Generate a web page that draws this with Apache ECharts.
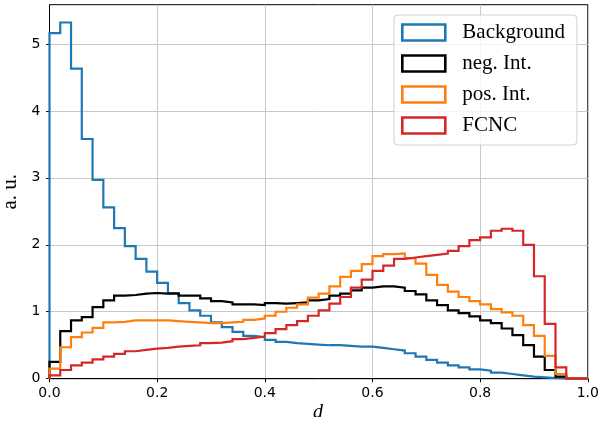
<!DOCTYPE html>
<html>
<head>
<meta charset="utf-8">
<script src="https://cdn.jsdelivr.net/npm/echarts@6/dist/echarts.min.js"></script>
<style>
  html, body { margin: 0; padding: 0; background: #fff; }
  #chart { width: 599px; height: 434px; }
</style>
</head>
<body>
<div id="chart"></div>
<script>
// Histogram binning: 50 equal bins on [0, 1]
const binLow = 0;
const binHigh = 1;
const binCount = 50;

const seriesNames = ['Background', 'neg. Int.', 'pos. Int.', 'FCNC'];

// Normalised bin contents (a.u.), one value per bin
const background = [
  5.16, 5.32, 4.63, 3.58, 2.97, 2.56, 2.25, 1.98, 1.79, 1.60,
  1.43, 1.28, 1.13, 1.02, 0.94, 0.84, 0.77, 0.70, 0.64, 0.62,
  0.58, 0.55, 0.53, 0.52, 0.51, 0.50, 0.50, 0.49, 0.48, 0.48,
  0.46, 0.44, 0.42, 0.38, 0.33, 0.28, 0.24, 0.20, 0.17, 0.14,
  0.12, 0.09, 0.07, 0.05, 0.03, 0.02, 0.01, 0.005, 0, 0
];
const negInt = [
  0.25, 0.71, 0.87, 0.92, 1.07, 1.17, 1.24, 1.25, 1.27, 1.28,
  1.27, 1.27, 1.24, 1.24, 1.20, 1.16, 1.14, 1.11, 1.11, 1.10,
  1.13, 1.12, 1.13, 1.14, 1.17, 1.19, 1.24, 1.27, 1.32, 1.36,
  1.38, 1.38, 1.36, 1.31, 1.26, 1.17, 1.10, 1.02, 0.98, 0.93,
  0.87, 0.83, 0.75, 0.65, 0.50, 0.33, 0.13, 0.03, 0, 0
];
const posInt = [
  0.15, 0.47, 0.62, 0.69, 0.76, 0.84, 0.85, 0.87, 0.87, 0.87,
  0.87, 0.86, 0.85, 0.84, 0.83, 0.83, 0.84, 0.85, 0.88, 0.90,
  0.94, 1.00, 1.06, 1.11, 1.21, 1.27, 1.38, 1.52, 1.61, 1.71,
  1.83, 1.86, 1.87, 1.80, 1.72, 1.55, 1.40, 1.30, 1.22, 1.16,
  1.11, 1.04, 0.99, 0.94, 0.80, 0.64, 0.34, 0.07, 0, 0
];
const fcnc = [
  0.05, 0.13, 0.20, 0.24, 0.29, 0.33, 0.37, 0.41, 0.43, 0.45,
  0.46, 0.48, 0.49, 0.50, 0.53, 0.54, 0.56, 0.59, 0.61, 0.63,
  0.68, 0.74, 0.80, 0.86, 0.94, 1.02, 1.12, 1.22, 1.36, 1.48,
  1.61, 1.69, 1.79, 1.81, 1.83, 1.85, 1.87, 1.91, 1.98, 2.07,
  2.11, 2.21, 2.24, 2.21, 2.00, 1.53, 0.82, 0.17, 0, 0
];

const xTicks = [0, 0.2, 0.4, 0.6, 0.8, 1.0];
const yTicks = [0, 1, 2, 3, 4, 5];
const colors = ['#1f77b4', '#000000', '#ff7f0e', '#d62728'];

// Outline of a step histogram: rise at the first edge, flat over each bin,
// fall back to zero at the last edge.
function stepOutline(values) {
  const w = (binHigh - binLow) / binCount;
  const pts = [[binLow, 0]];
  values.forEach((v, i) => pts.push([binLow + i * w, v]));
  pts.push([binHigh, values[values.length - 1]]);
  pts.push([binHigh, 0]);
  return pts;
}

const allValues = [background, negInt, posInt, fcnc];
const yMax = Math.max(...allValues.flat()) * 1.05;

const chart = echarts.init(document.getElementById('chart'), null, { renderer: 'canvas' });

const serif = '"Liberation Serif", "DejaVu Serif", serif';
const sans = '"DejaVu Sans", sans-serif';

chart.setOption({
  animation: false,
  backgroundColor: '#ffffff',
  grid: {
    left: 49.5, right: 11.2, top: 4.7, bottom: 55.3,
    outerBoundsMode: 'none',
    containLabel: false,
    show: true, borderColor: '#000', borderWidth: 1,
    backgroundColor: 'transparent'
  },
  xAxis: {
    type: 'value', min: 0, max: 1, interval: 0.2,
    axisLine: { lineStyle: { color: '#000', width: 1 } },
    axisTick: { show: true, inside: false, length: 3.5, lineStyle: { color: '#000', width: 1 },
                customValues: xTicks },
    axisLabel: {
      margin: 8, color: '#000', fontFamily: sans, fontSize: 14,
      customValues: xTicks, formatter: v => v.toFixed(1)
    },
    splitLine: { show: true, lineStyle: { color: '#c8c8c8', width: 1 } }
  },
  yAxis: {
    type: 'value', min: 0, max: yMax, interval: 1,
    name: 'a. u.', nameLocation: 'middle', nameGap: 24,
    nameTextStyle: { fontFamily: serif, fontSize: 21, color: '#000' },
    axisLine: { show: true, lineStyle: { color: '#000', width: 1 } },
    axisTick: { show: true, inside: false, length: 3.5, lineStyle: { color: '#000', width: 1 },
                customValues: yTicks },
    axisLabel: {
      margin: 9, color: '#000', fontFamily: sans, fontSize: 14,
      customValues: yTicks, formatter: v => String(Math.round(v))
    },
    splitLine: { show: true, lineStyle: { color: '#c8c8c8', width: 1 } }
  },
  legend: {
    orient: 'vertical',
    left: 394, top: 15,
    padding: [7, 12, 9, 7],
    itemGap: 10,
    itemWidth: 43, itemHeight: 16,
    backgroundColor: 'rgba(255,255,255,0.8)',
    borderColor: '#d0d0d0', borderWidth: 1, borderRadius: 4,
    textStyle: { fontFamily: serif, fontSize: 21, color: '#000', padding: [0, 0, 0, 12] },
    data: seriesNames.map((n, i) => ({
      name: n, icon: 'rect',
      itemStyle: { color: 'rgba(0,0,0,0)', borderColor: colors[i], borderWidth: 2.6 }
    }))
  },
  graphic: [
    {
      type: 'text', left: 313, top: 403, z: 10,
      style: { text: 'd', fontFamily: serif, fontStyle: 'italic', fontSize: 20, fill: '#000' }
    },
    {
      type: 'rect', left: 300, top: 417, z: 11,
      shape: { width: 40, height: 17 },
      style: { fill: '#fff' }
    }
  ],
  series: allValues.map((vals, i) => ({
    name: seriesNames[i],
    type: 'line',
    step: 'end',
    data: stepOutline(vals),
    showSymbol: false,
    symbol: 'none',
    clip: true,
    lineStyle: { color: colors[i], width: 2.2, join: 'miter' },
    itemStyle: { color: colors[i] },
    z: 3 + i
  }))
});
</script>
</body>
</html>
